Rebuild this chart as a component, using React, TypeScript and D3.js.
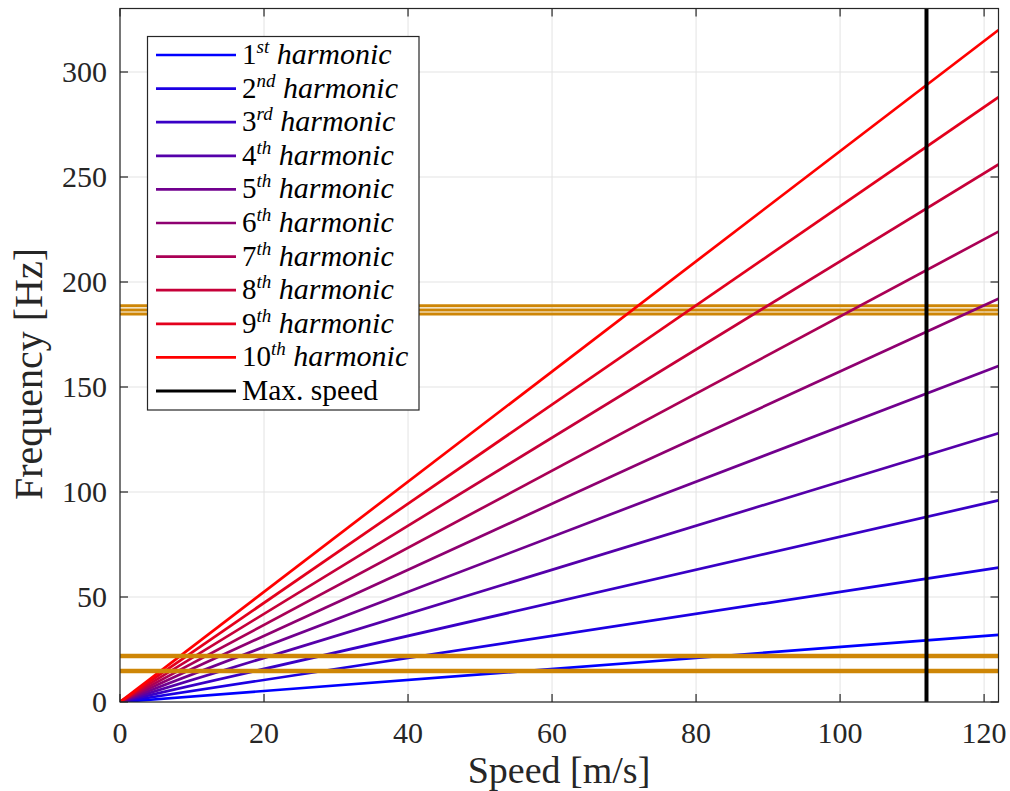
import React from "react";
import * as d3 from "d3";

const speedRange = [0, 122];
const firstHarmonicFreq = [0, 32];
const harmonicOrders = [1, 2, 3, 4, 5, 6, 7, 8, 9, 10];
const suffixes = ["st", "nd", "rd", "th", "th", "th", "th", "th", "th", "th"];
const upperResonances = [184.8, 186.7, 188.7];
const lowerResonances = [14.8, 21.9];
const maxSpeed = 112;
const xTicks = [0, 20, 40, 60, 80, 100, 120];
const yTicks = [0, 50, 100, 150, 200, 250, 300];

const W = 1010;
const H = 791;
const left = 120;
const right = 998.5;
const top = 8.5;
const bottom = 702;

const FONT = "'Liberation Serif', 'Times New Roman', serif";
const ORANGE = "rgb(206,134,6)";

export default function App() {
  const x = d3.scaleLinear().domain([0, 122]).range([left, right]);
  const y = d3.scaleLinear().domain([0, 330]).range([bottom, top + 0.5]);
  const color = (n: number) => {
    const t = (n - 1) / 9;
    return d3.rgb(Math.round(255 * t), 0, Math.round(255 * (1 - t))).toString();
  };
  const line = d3
    .line<[number, number]>()
    .x((d) => x(d[0]))
    .y((d) => y(d[1]));

  const legendX = 147.5;
  const legendY = 36.5;
  const rowH = 33.6;
  const firstRow = 55;

  return (
    <svg
      width={W}
      height={H}
      style={{ position: "absolute", left: 0, top: 0, background: "#fff" }}
      fontFamily={FONT}
    >
      <rect x={0} y={0} width={W} height={H} fill="#fff" />
      <defs>
        <clipPath id="plotclip">
          <rect x={left} y={top} width={right - left} height={bottom - top} />
        </clipPath>
      </defs>
      {/* grid */}
      <g stroke="#e3e3e3" strokeWidth={1}>
        {xTicks.map((t) => (
          <line key={"gx" + t} x1={x(t)} x2={x(t)} y1={top} y2={bottom} />
        ))}
        {yTicks.map((t) => (
          <line key={"gy" + t} x1={left} x2={right} y1={y(t)} y2={y(t)} />
        ))}
      </g>
      <g clipPath="url(#plotclip)">
        {upperResonances.map((f) => (
          <line
            key={"u" + f}
            x1={x(0)}
            x2={x(122)}
            y1={y(f)}
            y2={y(f)}
            stroke={ORANGE}
            strokeWidth={3}
          />
        ))}
        {harmonicOrders.map((n) => (
          <path
            key={"h" + n}
            d={
              line(
                speedRange.map((s, i) => [s, n * firstHarmonicFreq[i]] as [number, number])
              ) || ""
            }
            stroke={color(n)}
            strokeWidth={2.7}
            fill="none"
          />
        ))}
        {lowerResonances.map((f) => (
          <line
            key={"l" + f}
            x1={x(0)}
            x2={x(122)}
            y1={y(f)}
            y2={y(f)}
            stroke={ORANGE}
            strokeWidth={4.5}
          />
        ))}
        <line
          x1={x(maxSpeed)}
          x2={x(maxSpeed)}
          y1={top}
          y2={bottom}
          stroke="#000"
          strokeWidth={4}
        />
      </g>
      {/* axes box */}
      <rect
        x={left}
        y={top}
        width={right - left}
        height={bottom - top}
        fill="none"
        stroke="#262626"
        strokeWidth={1.2}
      />
      {/* ticks */}
      <g stroke="#262626" strokeWidth={1.2}>
        {xTicks.map((t) => (
          <g key={"tx" + t}>
            <line x1={x(t)} x2={x(t)} y1={bottom} y2={bottom - 8} />
            <line x1={x(t)} x2={x(t)} y1={top} y2={top + 8} />
          </g>
        ))}
        {yTicks.map((t) => (
          <g key={"ty" + t}>
            <line x1={left} x2={left + 8} y1={y(t)} y2={y(t)} />
            <line x1={right} x2={right - 8} y1={y(t)} y2={y(t)} />
          </g>
        ))}
      </g>
      {/* tick labels */}
      <g fill="#262626" fontSize={30}>
        {xTicks.map((t) => (
          <text key={"lx" + t} x={x(t)} y={743} textAnchor="middle">
            {t}
          </text>
        ))}
        {yTicks.map((t) => (
          <text key={"ly" + t} x={107} y={y(t) + 10} textAnchor="end">
            {t}
          </text>
        ))}
      </g>
      {/* axis labels */}
      <text x={559} y={783} textAnchor="middle" fontSize={38} fill="#262626">
        Speed [m/s]
      </text>
      <text
        transform={`translate(42,374) rotate(-90)`}
        textAnchor="middle"
        fontSize={40}
        fill="#262626"
      >
        Frequency [Hz]
      </text>
      {/* legend */}
      <rect
        x={legendX}
        y={legendY}
        width={419 - legendX}
        height={410 - legendY}
        fill="#fff"
        stroke="#262626"
        strokeWidth={1.2}
      />
      {harmonicOrders.map((n, i) => {
        const ry = firstRow + i * rowH;
        return (
          <g key={"lg" + n}>
            <line x1={156} x2={236} y1={ry} y2={ry} stroke={color(n)} strokeWidth={2.7} />
            <text x={242} y={ry + 9} fontSize={29} fill="#000">
              {n}
              <tspan fontSize={19} fontStyle="italic" dy={-11}>
                {suffixes[i]}
              </tspan>
              <tspan fontStyle="italic" dy={11} fontSize={30}>
                {" harmonic"}
              </tspan>
            </text>
          </g>
        );
      })}
      <g>
        <line
          x1={156}
          x2={236}
          y1={firstRow + 10 * rowH}
          y2={firstRow + 10 * rowH}
          stroke="#000"
          strokeWidth={3}
        />
        <text x={242} y={firstRow + 10 * rowH + 9} fontSize={29.5} fill="#000">
          Max. speed
        </text>
      </g>
    </svg>
  );
}
